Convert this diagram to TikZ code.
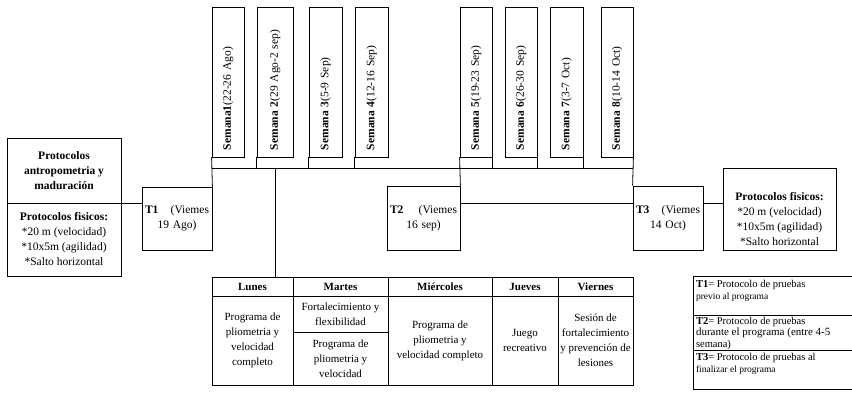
\documentclass[tikz,border=0pt]{standalone}
\usepackage{fontspec}
\setmainfont{Liberation Serif}
\newcommand\fsA{\fontsize{11.5}{15}\selectfont}
\newcommand\fsT{\fontsize{11}{15}\selectfont}
\newcommand\fsL{\fontsize{10.5}{12}\selectfont}
\newcommand\fsS{\fontsize{9.5}{12}\selectfont}
\begin{document}
\begin{tikzpicture}[x=1pt,y=-1pt,line width=0.8pt,
  bx/.style={draw, inner sep=0pt, align=center, font=\fsA},
  wk/.style={draw, inner sep=0pt, inner xsep=7pt, rotate=90, minimum width=150pt,
    minimum height=#1, text width=136pt, align=left, font=\fsA},
  cell/.style={draw, inner sep=0pt, align=center, font=\fsT},
  hd/.style={cell, font=\fsT\bfseries, minimum height=19pt},
  leg/.style={inner sep=0pt, minimum width=158pt, font=\fsL}
]
\useasboundingbox (0,0) rectangle (852,405);

% left boxes
\node[bx, minimum width=114, minimum height=65, font=\fsA\bfseries] (ant) at (64,170.5)
  {Protocolos\\antropometria y\\maduración};
\node[bx, minimum width=114, minimum height=73] (fis1) at (64,239.5)
  {\textbf{Protocolos fisicos:}\\*20 m (velocidad)\\*10x5m (agilidad)\\*Salto horizontal};

% test boxes
\node[bx, minimum width=70, minimum height=63, text width=64] (t1) at (177,218.5)
  {\textbf{T1}\hspace{0pt plus 1fill}(Viemes\\19 Ago)};
\node[bx, minimum width=73, minimum height=64, text width=67] (t2) at (423.5,218)
  {\textbf{T2}\hspace{0pt plus 1fill}(Viemes\\16 sep)};
\node[bx, minimum width=70, minimum height=64, text width=64] (t3) at (668,218)
  {\textbf{T3}\hspace{0pt plus 1fill}(Viemes\\14 Oct)};

% right box
\node[bx, minimum width=113, minimum height=82] (fis2) at (779.5,209) {};
\node[align=center, font=\fsA, inner sep=0pt] (fis2t) at (779.5,219)
  {\textbf{Protocolos fisicos:}\\*20 m (velocidad)\\*10x5m (agilidad)\\*Salto horizontal};

% weeks
\node[wk=32] (w1) at (228,82) {\textbf{Semana1}(22-26 Ago)};
\node[wk=36] (w2) at (275,82) {\textbf{Semana 2}(29 Ago-2 sep)};
\node[wk=33] (w3) at (325.5,82) {\textbf{Semana 3}(5-9 Sep)};
\node[wk=33] (w4) at (371.5,82) {\textbf{Semana 4}(12-16 Sep)};
\node[wk=32] (w5) at (476,82) {\textbf{Semana 5}(19-23 Sep)};
\node[wk=32] (w6) at (521,82) {\textbf{Semana 6}(26-30 Sep)};
\node[wk=33] (w7) at (566.5,82) {\textbf{Semana 7}(3-7 Oct)};
\node[wk=32] (w8) at (617,82) {\textbf{Semana 8}(10-14 Oct)};

% table
\node[hd, minimum width=81] (lunh) at (252.5,286.5) {Lunes};
\node[hd, minimum width=95] (marh) at (340.5,286.5) {Martes};
\node[hd, minimum width=104] (mieh) at (440,286.5) {Miércoles};
\node[hd, minimum width=66] (jueh) at (525,286.5) {Jueves};
\node[hd, minimum width=75] (vieh) at (595.5,286.5) {Viernes};
\node[cell, minimum width=81, minimum height=89] (lun) at (252.5,340.5)
  {Programa de\\pliometria y\\velocidad\\completo};
\node[cell, minimum width=95, minimum height=36] (mara) at (340.5,314)
  {Fortalecimiento y\\flexibilidad};
\node[cell, minimum width=95, minimum height=53] (marb) at (340.5,358.5)
  {Programa de\\pliometria y\\velocidad};
\node[cell, minimum width=104, minimum height=89] (mie) at (440,340.5)
  {Programa de\\pliometria y\\velocidad completo};
\node[cell, minimum width=66, minimum height=89] (jue) at (525,340.5)
  {Juego\\recreativo};
\node[cell, minimum width=75, minimum height=89] (vie) at (595.5,340.5)
  {Sesión de\\fortalecimiento\\y prevención de\\lesiones};

% legend (right border lies outside the picture)
\node[leg, minimum height=38] (l1) at (773,296)
  {\parbox[c][36pt][t]{154pt}{\vspace{2pt}\textbf{T1}= Protocolo de pruebas\\{\fsS previo al programa}}};
\node[leg, minimum height=35] (l2) at (773,332.5)
  {\parbox[c][33pt][t]{154pt}{\fontsize{10.5}{11.5}\selectfont\vspace{1pt}\textbf{T2}= Protocolo de pruebas\\{\fontsize{11}{11.5}\selectfont durante el programa (entre 4-5}\\semana)}};
\node[leg, minimum height=39] (l3) at (773,369.5)
  {\parbox[c][37pt][t]{154pt}{\vspace{2pt}\textbf{T3}= Protocolo de pruebas al\\{\fsS finalizar el programa}}};
\draw (l1.north east) -- (l1.north west) -- (l3.south west) -- (l3.south east);
\draw (l1.south west) -- (l1.south east);
\draw (l2.south west) -- (l2.south east);

% connectors
\coordinate (hl) at (w1.north west |- 0,168);
\coordinate (hr) at (w8.south west |- 0,168);
\coordinate (tc) at (275,168);
\draw (hl) -- (hr);
\draw (t1.north east) -- (w1.north west);
\draw (w2.north west) -- (w2.north west |- hl);
\draw (w3.north west) -- (w3.north west |- hl);
\draw (w4.north west) -- (w4.north west |- hl);
\draw (w5.north west) -- (t2.north east);
\draw (w5.south west) -- (w5.south west |- hl);
\draw (w6.south west) -- (w6.south west |- hl);
\draw (w7.south west) -- (w7.south west |- hl);
\draw (w8.south west) -- (t3.north west);
\draw (tc) -- (tc |- lunh.north);
\draw (ant.south east) -- (ant.south east -| t1.west);
\draw ([yshift=15pt]t2.east) -- ([yshift=15pt]t3.west);
\draw ([yshift=15pt]t3.east) -- ([yshift=15pt]t3.east -| fis2.west);
\end{tikzpicture}
\end{document}
